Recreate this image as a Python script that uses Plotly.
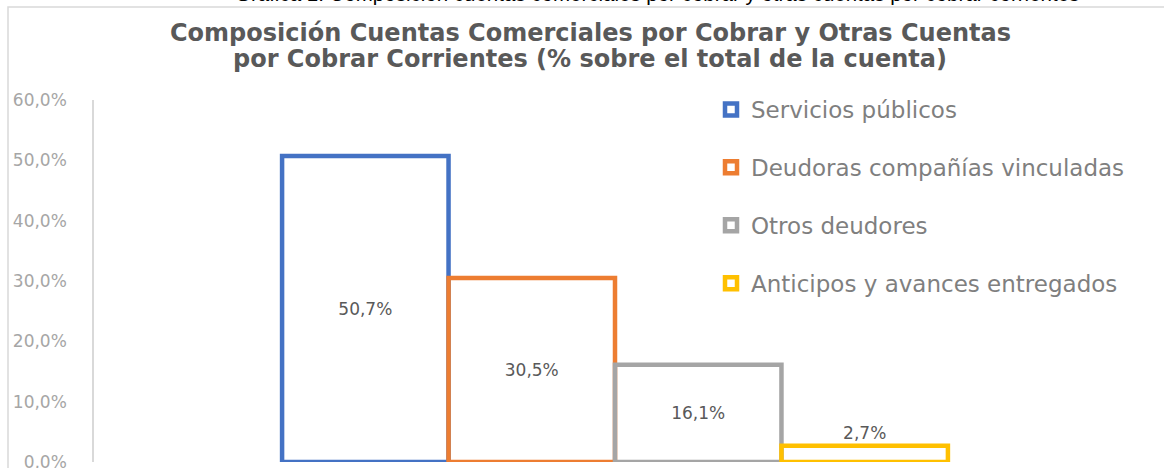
import plotly.graph_objects as go

categories = ["Servicios públicos", "Deudoras compañías vinculadas", "Otros deudores", "Anticipos y avances entregados"]
values = [50.7, 30.5, 16.1, 2.7]
colors = ["#4472C4", "#ED7D31", "#A5A5A5", "#FFC000"]
label_positions = ["inside", "inside", "inside", "outside"]
y_ticks = [0, 10, 20, 30, 40, 50, 60]
y_tick_labels = ["0,0%", "10,0%", "20,0%", "30,0%", "40,0%", "50,0%", "60,0%"]
title_lines = ["Composición Cuentas Comerciales por Cobrar y Otras Cuentas",
               "por Cobrar Corrientes (% sobre el total de la cuenta)"]
caption = "Gráfica 1. Composición cuentas comerciales por cobrar y otras cuentas por cobrar corrientes"

W, H = 1164, 468
ML, MR, MT, MB = 94, 28, 100, 6
PW, PH = W - ML - MR, H - MT - MB


def px_x(p):
    return (p - ML) / PW


def px_y(p):
    return (H - MB - p) / PH


fig = go.Figure()
for name, v, c, pos in zip(categories, values, colors, label_positions):
    fig.add_trace(go.Bar(
        x=[""], y=[v], name=name, legendgroup=name,
        marker=dict(color="rgba(255,255,255,0)", line=dict(color=c, width=4.5)),
        texttemplate="%{y:.1f}%", textposition=pos, insidetextanchor="middle",
        textangle=0, cliponaxis=False,
        textfont=dict(family="DejaVu Sans", size=17, color="#595959"),
    ))

annotations = [dict(
    text=caption,
    xref="paper", yref="paper", x=px_x(657), y=px_y(-7), xanchor="center", yanchor="middle",
    showarrow=False, font=dict(family="Liberation Sans", size=20.5, color="#000000"),
)]
for line, cy in zip(title_lines, [33, 59]):
    annotations.append(dict(
        text=line, xref="paper", yref="paper", x=px_x(590), y=px_y(cy),
        xanchor="center", yanchor="middle", showarrow=False,
        font=dict(family="DejaVu Sans", size=24, color="#595959", weight="bold"),
    ))

fig.update_layout(
    width=W, height=H,
    margin=dict(l=ML, r=MR, t=MT, b=MB, autoexpand=False),
    paper_bgcolor="white", plot_bgcolor="white",
    separators=",.",
    barmode="group", bargap=0.361, bargroupgap=0,
    showlegend=True,
    hovermode=False,
    legend=dict(
        x=px_x(711), y=px_y(88), xanchor="left", yanchor="top",
        font=dict(family="DejaVu Sans", size=23, color="#7f7f7f"),
        traceorder="grouped", tracegroupgap=25,
        bgcolor="rgba(0,0,0,0)",
    ),
    xaxis=dict(showticklabels=False, showline=False, showgrid=False, zeroline=False),
    yaxis=dict(
        range=[0, 60], tickvals=y_ticks, ticktext=y_tick_labels,
        showgrid=False, zeroline=False,
        showline=True, linecolor="#d9d9d9", linewidth=1.5,
        ticks="", ticklabelstandoff=22, ticklabeloverflow="allow",
        tickfont=dict(family="DejaVu Sans", size=17, color="#a6a6a6"),
    ),
    shapes=[dict(
        type="rect", xref="paper", yref="paper",
        x0=px_x(8), x1=px_x(1180), y0=px_y(480), y1=px_y(7),
        line=dict(color="#d9d9d9", width=1.5), fillcolor="rgba(0,0,0,0)", layer="below",
    )],
    annotations=annotations,
)

fig.write_html("out.html", config={"displayModeBar": False},
               post_script="document.body.style.margin='0';document.body.style.overflow='hidden';")
